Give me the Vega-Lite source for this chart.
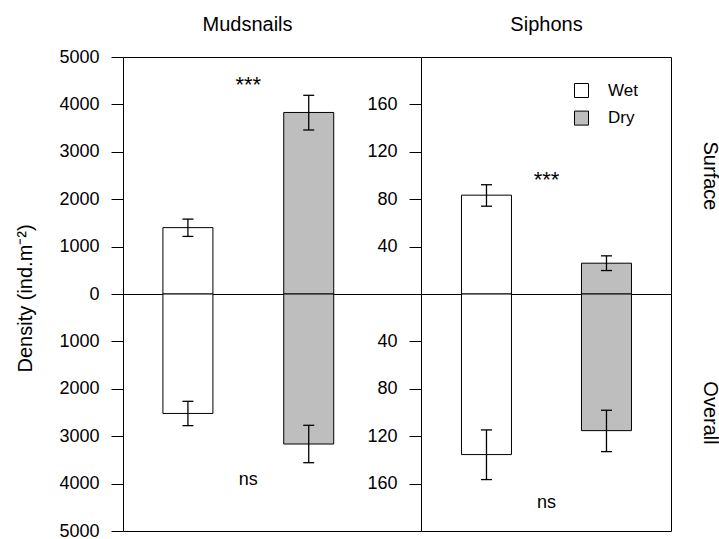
{
  "$schema": "https://vega.github.io/schema/vega-lite/v6.json",
  "background": "white",
  "padding": {"left": 14, "top": 13, "right": 8, "bottom": 0},
  "config": {
    "font": "Liberation Sans",
    "view": {"stroke": "black", "strokeWidth": 1},
    "axis": {
      "grid": false,
      "labelFont": "Liberation Sans",
      "labelFontSize": 18,
      "labelColor": "black",
      "tickColor": "black",
      "tickSize": 12,
      "tickWidth": 1,
      "labelPadding": 12,
      "domain": false,
      "titleFont": "Liberation Sans",
      "titleFontWeight": "normal",
      "titleColor": "black"
    },
    "title": {"font": "Liberation Sans", "fontWeight": "normal", "color": "black", "fontSize": 20}
  },
  "datasets": {
    "bars": [
      {"species": "Mudsnails", "layer": "Surface", "treatment": "Wet", "idx": 1, "mean": 1400, "lower": 1215, "upper": 1580},
      {"species": "Mudsnails", "layer": "Surface", "treatment": "Dry", "idx": 2, "mean": 3830, "lower": 3460, "upper": 4192},
      {"species": "Mudsnails", "layer": "Overall", "treatment": "Wet", "idx": 1, "mean": 2520, "lower": 2264, "upper": 2777},
      {"species": "Mudsnails", "layer": "Overall", "treatment": "Dry", "idx": 2, "mean": 3165, "lower": 2770, "upper": 3559},
      {"species": "Siphons", "layer": "Surface", "treatment": "Wet", "idx": 1, "mean": 83.4, "lower": 74.1, "upper": 92.2},
      {"species": "Siphons", "layer": "Surface", "treatment": "Dry", "idx": 2, "mean": 26, "lower": 19.8, "upper": 32.2},
      {"species": "Siphons", "layer": "Overall", "treatment": "Wet", "idx": 1, "mean": 135.5, "lower": 114.7, "upper": 156.6},
      {"species": "Siphons", "layer": "Overall", "treatment": "Dry", "idx": 2, "mean": 115.3, "lower": 98.1, "upper": 133.0}
    ],
    "notes": [
      {"species": "Mudsnails", "layer": "Surface", "idx": 1.5, "label": "***", "pos": 4270},
      {"species": "Siphons", "layer": "Surface", "idx": 1.5, "label": "***", "pos": 90},
      {"species": "Mudsnails", "layer": "Overall", "idx": 1.5, "label": "ns", "pos": 4040},
      {"species": "Siphons", "layer": "Overall", "idx": 1.5, "label": "ns", "pos": 181}
    ]
  },
  "columns": 2,
  "spacing": 0,
  "bounds": "flush",
  "align": "each",
  "concat": [
    {
      "width": 298,
      "height": 237,
      "data": {"name": "bars"},
      "transform": [{"filter": "datum.species === 'Mudsnails' && datum.layer === 'Surface'"}],
      "encoding": {
        "x": {"field": "idx", "type": "quantitative", "scale": {"domain": [0.504, 2.888], "nice": false, "zero": false},
          "axis": {"orient": "top", "title": "Mudsnails", "labels": false, "ticks": false, "titleFontSize": 20, "titleX": 124, "titleY": -27, "titleBaseline": "alphabetic", "titleAlign": "center"}}
      },
      "layer": [
        {
          "mark": {"type": "bar", "width": 50, "stroke": "black", "strokeWidth": 1},
          "encoding": {
            "y": {"field": "mean", "type": "quantitative", "scale": {"domain": [0, 5000], "nice": false},
              "axis": {"values": [0, 1000, 2000, 3000, 4000, 5000], "format": "d", "title": "Density  (ind.m⁻²)", "titleFontSize": 20, "titleAngle": -90, "titleAlign": "left", "titleBaseline": "alphabetic", "titleX": -92, "titleY": 315}},
            "fill": {"field": "treatment", "type": "nominal", "scale": {"domain": ["Wet", "Dry"], "range": ["#FFFFFF", "#BEBEBE"]},
              "legend": {"title": null, "orient": "none", "legendX": 450, "legendY": 25, "symbolType": "square", "symbolSize": 196, "symbolStrokeColor": "black", "symbolStrokeWidth": 1, "labelFontSize": 17, "labelColor": "black", "labelOffset": 18, "rowPadding": 8.6, "padding": 0}}
          }
        },
        {
          "mark": {"type": "rule", "color": "black", "strokeWidth": 1.3},
          "encoding": {
            "y": {"field": "lower", "type": "quantitative"},
            "y2": {"field": "upper"}
          }
        },
        {
          "mark": {"type": "tick", "orient": "horizontal", "size": 11, "thickness": 1.3, "color": "black", "opacity": 1},
          "encoding": {"y": {"field": "lower", "type": "quantitative"}}
        },
        {
          "mark": {"type": "tick", "orient": "horizontal", "size": 11, "thickness": 1.3, "color": "black", "opacity": 1},
          "encoding": {"y": {"field": "upper", "type": "quantitative"}}
        },
        {
          "data": {"name": "notes"},
          "transform": [{"filter": "datum.species === 'Mudsnails' && datum.layer === 'Surface'"}],
          "mark": {"type": "text", "fontSize": 22, "align": "center", "baseline": "alphabetic", "color": "black"},
          "encoding": {
            "y": {"field": "pos", "type": "quantitative"},
            "text": {"field": "label"}
          }
        }
      ]
    },
    {
      "width": 250,
      "height": 237,
      "data": {"name": "bars"},
      "transform": [{"filter": "datum.species === 'Siphons' && datum.layer === 'Surface'"}],
      "encoding": {
        "x": {"field": "idx", "type": "quantitative", "scale": {"domain": [0.496, 2.496], "nice": false, "zero": false},
          "axis": {"orient": "top", "title": "Siphons", "labels": false, "ticks": false, "titleFontSize": 20, "titleY": -27, "titleBaseline": "alphabetic"}}
      },
      "resolve": {"scale": {"y": "independent"}},
      "layer": [
        {
          "mark": {"type": "bar", "width": 50, "stroke": "black", "strokeWidth": 1},
          "encoding": {
            "y": {"field": "mean", "type": "quantitative", "scale": {"domain": [0, 200], "nice": false},
              "axis": {"values": [40, 80, 120, 160], "format": "d", "title": null}},
            "fill": {"field": "treatment", "type": "nominal", "scale": {"domain": ["Wet", "Dry"], "range": ["#FFFFFF", "#BEBEBE"]},
              "legend": {"title": null, "orient": "none", "legendX": 450, "legendY": 25, "symbolType": "square", "symbolSize": 196, "symbolStrokeColor": "black", "symbolStrokeWidth": 1, "labelFontSize": 17, "labelColor": "black", "labelOffset": 18, "rowPadding": 8.6, "padding": 0}}
          }
        },
        {
          "mark": {"type": "rule", "color": "black", "strokeWidth": 1.3},
          "encoding": {
            "y": {"field": "lower", "type": "quantitative", "scale": {"domain": [0, 200], "nice": false}, "axis": null},
            "y2": {"field": "upper"}
          }
        },
        {
          "mark": {"type": "tick", "orient": "horizontal", "size": 11, "thickness": 1.3, "color": "black", "opacity": 1},
          "encoding": {"y": {"field": "lower", "type": "quantitative", "scale": {"domain": [0, 200], "nice": false}, "axis": null}}
        },
        {
          "mark": {"type": "tick", "orient": "horizontal", "size": 11, "thickness": 1.3, "color": "black", "opacity": 1},
          "encoding": {"y": {"field": "upper", "type": "quantitative", "scale": {"domain": [0, 200], "nice": false}, "axis": null}}
        },
        {
          "data": {"name": "notes"},
          "transform": [{"filter": "datum.species === 'Siphons' && datum.layer === 'Surface'"}],
          "mark": {"type": "text", "fontSize": 22, "align": "center", "baseline": "alphabetic", "color": "black"},
          "encoding": {
            "y": {"field": "pos", "type": "quantitative", "scale": {"domain": [0, 200], "nice": false},
              "axis": {"orient": "right", "title": "Surface", "labels": false, "ticks": false, "titleFontSize": 20, "titleAngle": 90, "titleX": 32, "titleY": 118.5, "titleAlign": "center", "titleBaseline": "alphabetic"}},
            "text": {"field": "label"}
          }
        }
      ]
    },
    {
      "width": 298,
      "height": 237,
      "data": {"name": "bars"},
      "transform": [{"filter": "datum.species === 'Mudsnails' && datum.layer === 'Overall'"}],
      "encoding": {
        "x": {"field": "idx", "type": "quantitative", "scale": {"domain": [0.504, 2.888], "nice": false, "zero": false}, "axis": null}
      },
      "layer": [
        {
          "mark": {"type": "bar", "width": 50, "stroke": "black", "strokeWidth": 1},
          "encoding": {
            "y": {"field": "mean", "type": "quantitative", "scale": {"domain": [0, 5000], "nice": false, "reverse": true},
              "axis": {"values": [1000, 2000, 3000, 4000, 5000], "format": "d", "title": null}},
            "fill": {"field": "treatment", "type": "nominal", "scale": {"domain": ["Wet", "Dry"], "range": ["#FFFFFF", "#BEBEBE"]},
              "legend": {"title": null, "orient": "none", "legendX": 450, "legendY": 25, "symbolType": "square", "symbolSize": 196, "symbolStrokeColor": "black", "symbolStrokeWidth": 1, "labelFontSize": 17, "labelColor": "black", "labelOffset": 18, "rowPadding": 8.6, "padding": 0}}
          }
        },
        {
          "mark": {"type": "rule", "color": "black", "strokeWidth": 1.3},
          "encoding": {
            "y": {"field": "lower", "type": "quantitative"},
            "y2": {"field": "upper"}
          }
        },
        {
          "mark": {"type": "tick", "orient": "horizontal", "size": 11, "thickness": 1.3, "color": "black", "opacity": 1},
          "encoding": {"y": {"field": "lower", "type": "quantitative"}}
        },
        {
          "mark": {"type": "tick", "orient": "horizontal", "size": 11, "thickness": 1.3, "color": "black", "opacity": 1},
          "encoding": {"y": {"field": "upper", "type": "quantitative"}}
        },
        {
          "data": {"name": "notes"},
          "transform": [{"filter": "datum.species === 'Mudsnails' && datum.layer === 'Overall'"}],
          "mark": {"type": "text", "fontSize": 18, "align": "center", "baseline": "alphabetic", "color": "black"},
          "encoding": {
            "y": {"field": "pos", "type": "quantitative"},
            "text": {"field": "label"}
          }
        }
      ]
    },
    {
      "width": 250,
      "height": 237,
      "data": {"name": "bars"},
      "transform": [{"filter": "datum.species === 'Siphons' && datum.layer === 'Overall'"}],
      "encoding": {
        "x": {"field": "idx", "type": "quantitative", "scale": {"domain": [0.496, 2.496], "nice": false, "zero": false}, "axis": null}
      },
      "resolve": {"scale": {"y": "independent"}},
      "layer": [
        {
          "mark": {"type": "bar", "width": 50, "stroke": "black", "strokeWidth": 1},
          "encoding": {
            "y": {"field": "mean", "type": "quantitative", "scale": {"domain": [0, 200], "nice": false, "reverse": true},
              "axis": {"values": [40, 80, 120, 160], "format": "d", "title": null}},
            "fill": {"field": "treatment", "type": "nominal", "scale": {"domain": ["Wet", "Dry"], "range": ["#FFFFFF", "#BEBEBE"]},
              "legend": {"title": null, "orient": "none", "legendX": 450, "legendY": 25, "symbolType": "square", "symbolSize": 196, "symbolStrokeColor": "black", "symbolStrokeWidth": 1, "labelFontSize": 17, "labelColor": "black", "labelOffset": 18, "rowPadding": 8.6, "padding": 0}}
          }
        },
        {
          "mark": {"type": "rule", "color": "black", "strokeWidth": 1.3},
          "encoding": {
            "y": {"field": "lower", "type": "quantitative", "scale": {"domain": [0, 200], "nice": false, "reverse": true}, "axis": null},
            "y2": {"field": "upper"}
          }
        },
        {
          "mark": {"type": "tick", "orient": "horizontal", "size": 11, "thickness": 1.3, "color": "black", "opacity": 1},
          "encoding": {"y": {"field": "lower", "type": "quantitative", "scale": {"domain": [0, 200], "nice": false, "reverse": true}, "axis": null}}
        },
        {
          "mark": {"type": "tick", "orient": "horizontal", "size": 11, "thickness": 1.3, "color": "black", "opacity": 1},
          "encoding": {"y": {"field": "upper", "type": "quantitative", "scale": {"domain": [0, 200], "nice": false, "reverse": true}, "axis": null}}
        },
        {
          "data": {"name": "notes"},
          "transform": [{"filter": "datum.species === 'Siphons' && datum.layer === 'Overall'"}],
          "mark": {"type": "text", "fontSize": 18, "align": "center", "baseline": "alphabetic", "color": "black"},
          "encoding": {
            "y": {"field": "pos", "type": "quantitative", "scale": {"domain": [0, 200], "nice": false, "reverse": true},
              "axis": {"orient": "right", "title": "Overall", "labels": false, "ticks": false, "titleFontSize": 20, "titleAngle": 90, "titleX": 32, "titleY": 118.5, "titleAlign": "center", "titleBaseline": "alphabetic"}},
            "text": {"field": "label"}
          }
        }
      ]
    }
  ]
}
